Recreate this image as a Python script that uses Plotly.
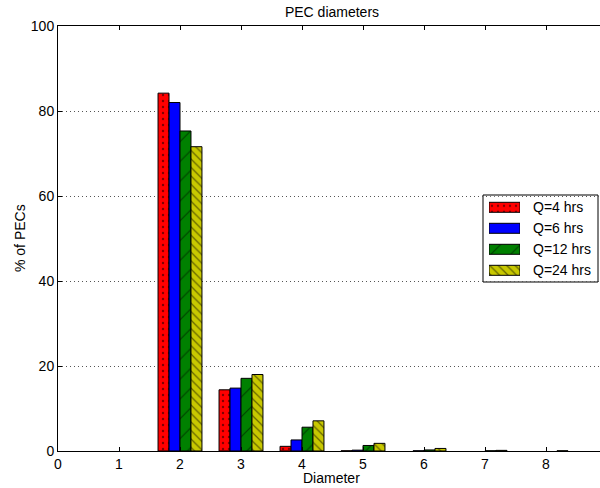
import plotly.graph_objects as go

diameters = [0, 1, 2, 3, 4, 5, 6, 7, 8]
q4 = [0, 0, 84.2, 14.4, 1.1, 0.05, 0, 0, 0]
q6 = [0, 0, 82.0, 14.8, 2.6, 0.2, 0.05, 0, 0]
q12 = [0, 0, 75.3, 17.1, 5.6, 1.3, 0.25, 0.05, 0]
q24 = [0, 0, 71.6, 18.0, 7.1, 1.8, 0.6, 0.15, 0.05]
series_names = ["Q=4 hrs", "Q=6 hrs", "Q=12 hrs", "Q=24 hrs"]
colors = ["#ff0000", "#0000ff", "#008000", "#c8c800"]
patterns = [
    dict(shape=".", fgcolor="black", size=6, solidity=0.12, fillmode="overlay"),
    dict(shape=""),
    dict(shape="/", fgcolor="black", size=14, solidity=0.08, fillmode="overlay"),
    dict(shape="\\", fgcolor="black", size=6, solidity=0.2, fillmode="overlay"),
]

font = "Liberation Sans, Arial, sans-serif"
W, H = 600, 488
L, R, T, B = 58, 0, 26, 37
pw, ph = W - L - R, H - T - B

def px_x(x):
    return (x - L) / pw

def px_y(y):
    return (H - B - y) / ph

fig = go.Figure()
for name, vals, c, p in zip(series_names, [q4, q6, q12, q24], colors, patterns):
    fig.add_trace(go.Bar(
        x=diameters, y=vals, name=name, showlegend=False,
        marker=dict(color=c, line=dict(color="black", width=[1 if v > 0 else 0 for v in vals]),
                    pattern=p),
        xaxis="x", yaxis="y",
    ))

# Legend box (custom)
lx0, lx1, ly0, ly1 = 483, 598, 195, 282
fig.add_shape(type="rect", xref="paper", yref="paper",
              x0=px_x(lx0), x1=px_x(lx1), y0=px_y(ly1), y1=px_y(ly0),
              fillcolor="white", line=dict(color="black", width=1), layer="between")
row_y = [207.3, 228.3, 249.3, 270.3]
sw_x0, sw_x1 = 489, 520
sw_h = 10 / 21
for i, (name, c, p) in enumerate(zip(series_names, colors, patterns)):
    fig.add_trace(go.Bar(
        y=[i], x=[1], orientation="h", width=[sw_h], offset=[-sw_h / 2], showlegend=False,
        marker=dict(color=c, line=dict(color="black", width=1), pattern=p),
        xaxis="x2", yaxis="y2", hoverinfo="skip",
    ))
    fig.add_annotation(text=name, xref="paper", yref="paper", x=px_x(531), y=px_y(row_y[i]),
                       xanchor="left", yanchor="middle", showarrow=False,
                       font=dict(size=14, family=font, color="black"))

ax2_y_top, ax2_y_bot = row_y[0] - 10.5, row_y[-1] + 10.5

fig.update_layout(
    width=W, height=H,
    margin=dict(l=L, r=R, t=T, b=B),
    paper_bgcolor="white", plot_bgcolor="white",
    barmode="group", bargap=0.28, bargroupgap=0,
    font=dict(family=font, size=13, color="black"),
    title=dict(text="PEC diameters", x=332/W, xref="container", xanchor="center",
               y=1 - 12/H, yref="container", yanchor="middle",
               font=dict(size=14, family=font, color="black")),
    showlegend=False,
    xaxis=dict(range=[0, pw/61], tickvals=diameters, ticktext=[str(d) for d in diameters],
               ticks="inside", ticklen=4, tickcolor="black", showline=True, linecolor="black",
               linewidth=1, mirror="ticks", showgrid=False, zeroline=False, automargin=False,
               tickfont=dict(size=14)),
    yaxis=dict(range=[0, 100], tickvals=[0, 20, 40, 60, 80, 100], ticks="inside", ticklen=4,
               tickcolor="black", showline=True, linecolor="black", linewidth=1,
               mirror=False, showgrid=True, gridcolor="#555555", griddash="1px,3px", gridwidth=1,
               zeroline=False, automargin=False, tickfont=dict(size=14)),
    xaxis2=dict(domain=[px_x(sw_x0), px_x(sw_x1)], range=[0, 1], anchor="y2",
                visible=False, fixedrange=True),
    yaxis2=dict(domain=[px_y(ax2_y_bot), px_y(ax2_y_top)], range=[3.5, -0.5], anchor="x2",
                visible=False, fixedrange=True),
)
fig.add_annotation(text="Diameter", xref="paper", yref="paper", x=px_x(331), y=px_y(478),
                   xanchor="center", yanchor="middle", showarrow=False,
                   font=dict(size=14, family=font, color="black"))
fig.add_annotation(text="% of PECs", xref="paper", yref="paper", x=px_x(20), y=px_y(238),
                   xanchor="center", yanchor="middle", showarrow=False, textangle=-90,
                   font=dict(size=14, family=font, color="black"))
fig.write_html("out.html", config={"displayModeBar": False},
               post_script="document.body.style.margin='0';document.body.style.overflow='hidden';")
